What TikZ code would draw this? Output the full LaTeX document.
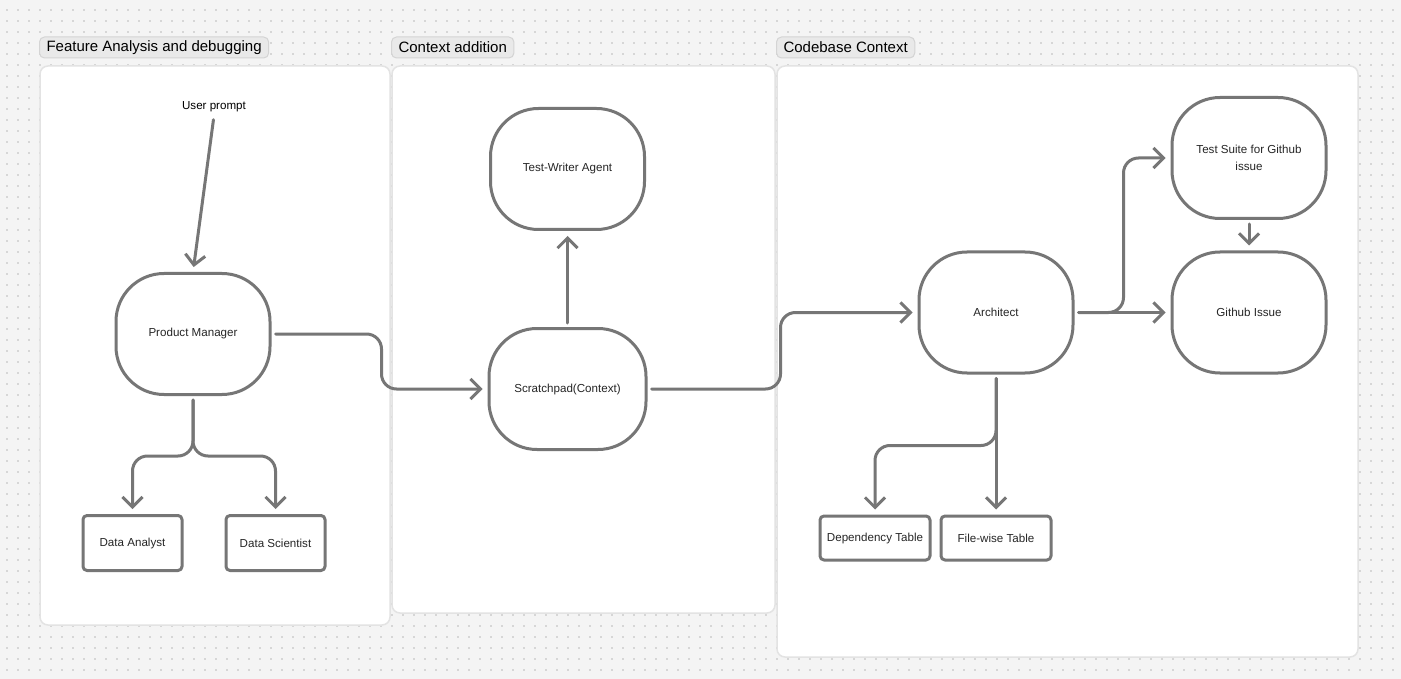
\documentclass[tikz,border=0pt]{standalone}
\usepackage{fontspec}
\setmainfont{Liberation Sans}
\usetikzlibrary{arrows.meta}
\definecolor{bggray}{HTML}{F4F4F4}
\definecolor{dotgray}{HTML}{D6D6D6}
\definecolor{panelline}{HTML}{E3E3E3}
\definecolor{tagfill}{HTML}{E9E9E9}
\definecolor{tagline}{HTML}{D4D4D4}
\definecolor{edgegray}{HTML}{767676}
\definecolor{txtgray}{HTML}{262626}
\begin{document}
\begin{tikzpicture}[x=1pt, y=-1pt, line join=round, line cap=round,
		agent/.style={draw=edgegray, line width=3pt, fill=white, rounded corners=48pt, minimum width=154pt, minimum height=121pt, inner sep=0pt, align=center, text=txtgray, font=\fontsize{11.6}{17}\selectfont},
		tablebox/.style={draw=edgegray, line width=3pt, fill=white, rounded corners=4pt, minimum width=99pt, minimum height=55pt, inner sep=0pt, text=txtgray, font=\fontsize{11.6}{13}\selectfont},
		panel/.style={draw=panelline, line width=1.5pt, fill=white, rounded corners=8pt},
		tag/.style={draw=tagline, line width=1pt, fill=tagfill, rounded corners=5pt, minimum height=21pt, inner xsep=7pt, anchor=west, font=\fontsize{15}{17}\selectfont},
		flow/.style={draw=edgegray, line width=3pt, rounded corners=15pt, -{Straight Barb[length=10pt,width=20pt]}, shorten >=5pt, shorten <=4pt},
		dots/.style={draw=dotgray, line width=2pt, line cap=butt, dash pattern=on 2pt off 9pt}]
	\useasboundingbox (0,0) rectangle (1401,679);
	\fill[bggray] (0,0) rectangle (1401,679);
	\foreach \y in {10,21,...,670} \draw[dots] (6,\y) -- (1401,\y);
	% panels and their titles
	\draw[panel] (40,66) rectangle (390,625);
	\draw[panel] (392,66) rectangle (775,613);
	\draw[panel] (777,66) rectangle (1358,657);
	\node[tag] (tfeat) at (39,47.5) {Feature Analysis and debugging};
	\node[tag] (tctx) at (391,47.5) {Context addition};
	\node[tag] (tcode) at (776,47.5) {Codebase Context};
	% nodes
	\node[text=black, font=\fontsize{11.6}{13}\selectfont] (up) at (214,107) {User prompt};
	\node[agent] (pm) at (193,334) {Product Manager};
	\node[tablebox] (da) at (132.5,543) {Data Analyst};
	\node[tablebox] (ds) at (275.5,543) {Data Scientist};
	\node[agent] (tw) at (567.5,169) {Test-Writer Agent};
	\node[agent, minimum width=157pt] (sp) at (567.5,389) {Scratchpad(Context)};
	\node[agent] (ar) at (996,312.5) {Architect};
	\node[agent] (ts) at (1249,158) {Test Suite for Github\\issue};
	\node[agent] (gi) at (1249,312.5) {Github Issue};
	\node[tablebox, minimum width=110pt, minimum height=44pt] (dt) at (875,538) {Dependency Table};
	\node[tablebox, minimum width=110pt, minimum height=44pt] (fw) at (996,538) {File-wise Table};
	% connectors
	\draw[flow] (up.south) -- (pm.north);
	\draw[flow] (pm.south) -- ++(0,60) -| (da.north);
	\draw[flow] (pm.south) -- ++(0,60) -| (ds.north);
	\draw[flow] (pm.east) -- ++(110,0) |- (sp.west);
	\draw[flow] (sp.north) -- (tw.south);
	\draw[flow] (sp.east) -- ++(133,0) |- (ar.west);
	\draw[flow] (ar.east) -- (gi.west);
	\draw[flow] (ar.east) -- ++(49,0) |- (ts.west);
	\draw[flow] (ts.south) -- (gi.north);
	\draw[flow] (ar.south) -- (fw.north);
	\draw[flow] (ar.south) -- ++(0,71) -| (dt.north);
\end{tikzpicture}
\end{document}
